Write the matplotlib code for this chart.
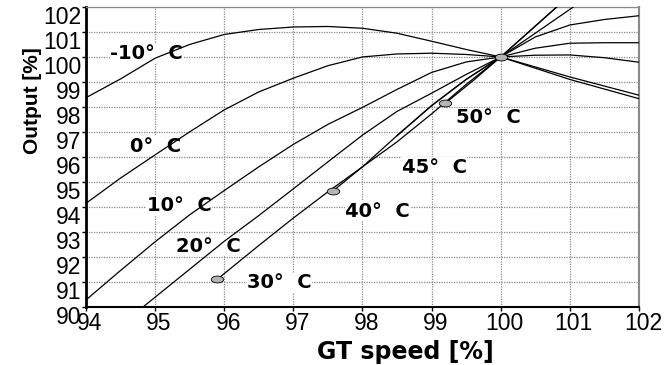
import numpy as np
import matplotlib
matplotlib.use("Agg")
import matplotlib.pyplot as plt
import matplotlib.transforms as mtransforms
from matplotlib.path import Path

plt.rcParams["font.family"] = ["Liberation Sans", "DejaVu Sans"]

# GT speed [%] / output [%] per ambient temperature
x_m10 = [94, 94.5, 95, 95.5, 96, 96.5, 97, 97.5, 98, 98.5, 99, 99.5, 100, 101, 102]
y_m10 = [98.37, 99.12, 99.95, 100.5, 100.9, 101.1, 101.2, 101.22, 101.15, 100.95, 100.63, 100.3, 100.0, 99.1, 98.33]

x_0 = [94, 94.5, 95, 95.5, 96, 96.5, 97, 97.5, 98, 98.5, 99, 99.5, 100, 101, 102]
y_0 = [94.14, 95.15, 96.08, 97.0, 97.88, 98.6, 99.15, 99.65, 100.0, 100.12, 100.15, 100.1, 100.0, 99.2, 98.47]

x_10 = [94, 94.5, 95, 95.5, 96, 96.5, 97, 97.5, 98, 98.5, 99, 99.5, 100, 100.5, 101, 101.5, 102]
y_10 = [90.27, 91.45, 92.6, 93.68, 94.65, 95.6, 96.5, 97.3, 97.98, 98.7, 99.38, 99.8, 100.0, 100.07, 100.08, 99.97, 99.79]

x_20 = [94.83, 95.5, 96, 96.5, 97, 97.5, 98, 98.5, 99, 99.5, 100, 100.5, 101, 101.5, 102]
y_20 = [90.0, 91.5, 92.62, 93.65, 94.72, 95.8, 96.87, 97.82, 98.55, 99.3, 100.0, 100.35, 100.55, 100.57, 100.57]

x_30 = [95.9, 96.5, 97, 97.5, 98, 98.5, 99, 99.5, 100, 100.5, 101, 101.5, 102]
y_30 = [91.1, 92.45, 93.55, 94.6, 95.6, 96.6, 97.72, 98.9, 100.0, 100.8, 101.28, 101.5, 101.65]

x_40 = [97.58, 98, 98.5, 99, 99.5, 100, 100.5, 101.05]
y_40 = [94.65, 95.6, 96.85, 98.05, 99.1, 100.0, 100.95, 102.0]

x_45 = [98.5, 99, 99.5, 100, 100.81]
y_45 = [96.85, 98.05, 99.1, 100.0, 102.0]

x_50 = [99.2, 99.6, 100, 100.81]
y_50 = [98.15, 99.05, 100.0, 102.0]

curves = [(x_m10, y_m10), (x_0, y_0), (x_10, y_10), (x_20, y_20),
          (x_30, y_30), (x_40, y_40), (x_45, y_45), (x_50, y_50)]

# start points with markers, and the common design point
marker_x = [95.9, 97.58, 99.2, 100]
marker_y = [91.1, 94.65, 98.15, 100]

labels = ["-10°  C", "0°  C", "10°  C", "20°  C", "30°  C", "40°  C", "45°  C", "50°  C"]
label_x = [94.35, 94.63, 94.88, 95.30, 96.33, 97.75, 98.57, 99.35]
label_y = [99.91, 96.21, 93.84, 92.20, 90.74, 93.60, 95.37, 97.34]

xticks = np.arange(94, 103, 1)
yticks = np.arange(90, 103, 1)

fig = plt.figure(figsize=(6.68, 3.65), dpi=100)
ax = fig.add_axes([0.1287, 0.1597, 0.8278, 0.8211])

ell = Path.unit_circle().transformed(mtransforms.Affine2D().scale(1.0, 0.55))

for xs, ys in curves:
    ax.plot(xs, ys, color="black", lw=0.9, zorder=3)
ax.plot(marker_x, marker_y, ls="none", marker=ell, ms=9, mfc="#b4b4b4",
        mec="black", mew=0.6, zorder=4)

for s, tx, ty in zip(labels, label_x, label_y):
    ax.text(tx, ty, s, fontsize=14, fontweight="bold", family="DejaVu Sans",
            ha="left", va="baseline", zorder=2.5,
            bbox=dict(facecolor="white", edgecolor="none", pad=0.3))

ax.set_xlim(94, 102)
ax.set_ylim(90, 102)
ax.set_xticks(xticks)
ax.set_yticks(yticks)
ax.set_xticklabels([str(v) for v in xticks], fontsize=16.5)
ax.set_yticklabels([str(v) for v in yticks], fontsize=16.5)
ax.tick_params(axis="both", direction="out", length=3, width=1, color="black", pad=0.5)

# labels sit a bit off their ticks in the original
for lab in ax.get_yticklabels():
    lab.set_transform(lab.get_transform() +
                      mtransforms.ScaledTranslation(0, -8 / 100, fig.dpi_scale_trans))
for lab in ax.get_xticklabels():
    lab.set_transform(lab.get_transform() +
                      mtransforms.ScaledTranslation(4 / 100, 0, fig.dpi_scale_trans))

ax.set_axisbelow(True)
ax.grid(True, color="#8a8a8a", linestyle=(0, (1, 1)), lw=0.9)

ax.spines["left"].set_linewidth(2)
ax.spines["left"].set_color("black")
ax.spines["bottom"].set_linewidth(1.5)
ax.spines["bottom"].set_color("black")
ax.spines["right"].set_linewidth(1.5)
ax.spines["right"].set_color("#8a8a8a")
ax.spines["top"].set_linewidth(0.9)
ax.spines["top"].set_color("#8a8a8a")
ax.spines["top"].set_linestyle((0, (1, 1)))

fig.text(405 / 668, 1 - 359 / 365, "GT speed [%]", fontsize=17, fontweight="bold",
         family="DejaVu Sans", ha="center", va="baseline")
fig.text(32 / 668, 1 - 101 / 365, "Output [%]", fontsize=15, fontweight="bold",
         rotation=90, ha="center", va="center")

fig.savefig("out.png", dpi=100)
